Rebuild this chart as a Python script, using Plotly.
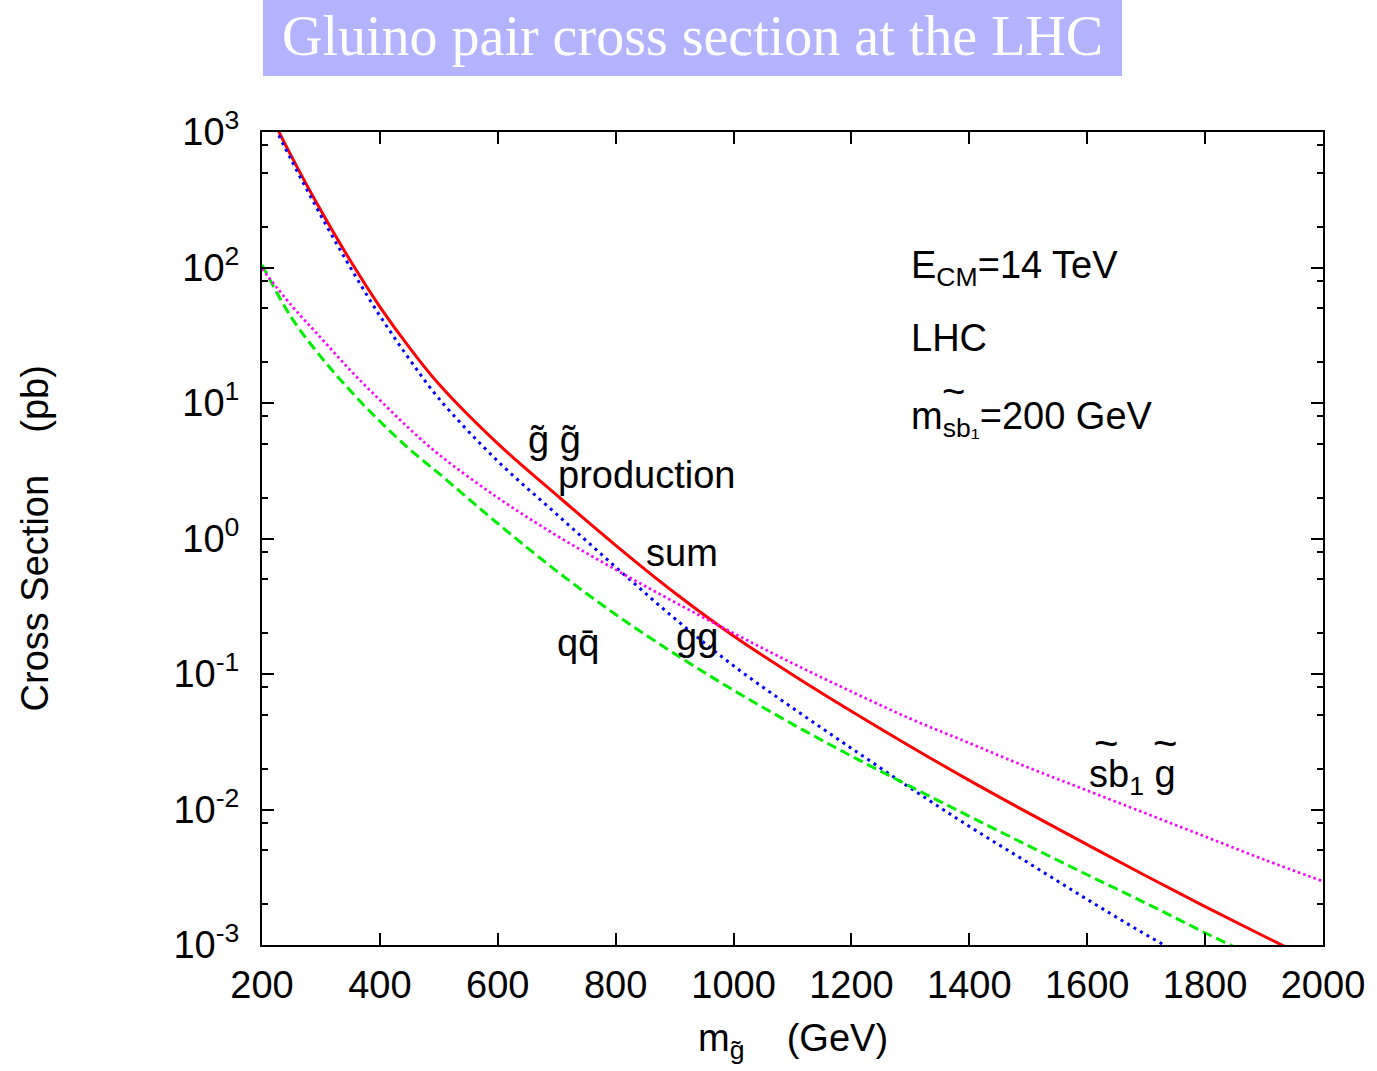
import plotly.graph_objects as go

# Gluino mass grid (GeV)
mass = [200, 250, 300, 350, 400, 450, 500, 600, 700, 800, 900, 1000, 1100,
        1200, 1300, 1400, 1500, 1600, 1700, 1800, 1900, 2000]

# Cross sections in pb
sigma_sum = [1780, 661, 263, 112, 51.3, 25.7, 13.8, 5.01, 2.09, 0.891, 0.398, 0.191, 0.0989,
             0.0531, 0.0292, 0.0164, 0.00944, 0.00550, 0.00323, 0.00192, 0.00116, 0.000708]
sigma_gg = [1670, 618, 241, 99.9, 44.0, 21.1, 10.8, 3.72, 1.51, 0.616, 0.257, 0.115, 0.0562,
            0.0283, 0.0144, 0.00750, 0.00404, 0.00217, 0.00119, 0.000680, 0.000398, 0.000240]
sigma_qq = [105, 42.7, 21.9, 12.3, 7.33, 4.57, 3.02, 1.29, 0.575, 0.275, 0.141, 0.0759, 0.0427,
            0.0248, 0.0148, 0.00891, 0.00541, 0.00330, 0.00203, 0.00123, 0.000762, 0.000474]
sigma_sbg = [97.7, 52.5, 30.2, 17.4, 10.5, 6.46, 4.17, 2.00, 1.05, 0.589, 0.339, 0.200, 0.120,
             0.0741, 0.0468, 0.0309, 0.0204, 0.0138, 0.00933, 0.00631, 0.00427, 0.00295]

x_ticks = [200, 400, 600, 800, 1000, 1200, 1400, 1600, 1800, 2000]
y_ticks = [1e-3, 1e-2, 1e-1, 1, 10, 100, 1000]
y_ticktext = ["10<sup>-3</sup>", "10<sup>-2</sup>", "10<sup>-1</sup>", "10<sup>0</sup>",
              "10<sup>1</sup>", "10<sup>2</sup>", "10<sup>3</sup>"]
y_minor = [m * 10.0 ** e for e in range(-3, 3) for m in (2, 5, 8)]

FONT = "Liberation Sans, Arial, Helvetica, sans-serif"
FS = 38

fig = go.Figure()
fig.add_trace(go.Scatter(x=mass, y=sigma_sum, mode="lines", line_shape="spline",
                         line=dict(color="#ff0000", width=3)))
fig.add_trace(go.Scatter(x=mass, y=sigma_gg, mode="lines", line_shape="spline",
                         line=dict(color="#0000ff", width=3, dash="3px,4.5px")))
fig.add_trace(go.Scatter(x=mass, y=sigma_qq, mode="lines", line_shape="spline",
                         line=dict(color="#00ee00", width=3, dash="10px,5px")))
fig.add_trace(go.Scatter(x=mass, y=sigma_sbg, mode="lines", line_shape="spline",
                         line=dict(color="#ff00ff", width=2.7, dash="2.5px,3px")))

axis_common = dict(showline=True, linecolor="black", linewidth=2, mirror="allticks",
                   ticks="inside", ticklen=12, tickwidth=1.6, tickcolor="black",
                   showgrid=False, zeroline=False,
                   tickfont=dict(family=FONT, size=FS, color="black"))

fig.update_xaxes(range=[200, 2000], tickvals=x_ticks, ticklabelstandoff=5, **axis_common)
fig.update_yaxes(type="log", range=[-3, 3], tickvals=y_ticks, ticktext=y_ticktext,
                 ticklabelstandoff=13,
                 minor=dict(tickvals=y_minor, ticks="inside", ticklen=6,
                            tickwidth=1.6, tickcolor="black", showgrid=False),
                 **axis_common)

annotations = []

def label(x, logy, text, size=FS, anchor="left"):
    annotations.append(dict(x=x, y=logy, xref="x", yref="y", text=text, showarrow=False,
                            xanchor=anchor, yanchor="middle",
                            font=dict(family=FONT, size=size, color="black")))

label(1298, 2.00, "E<sub>CM</sub>=14 TeV")
label(1298, 1.48, "LHC")
label(1298, 0.88, "m<sub>sb\u2081</sub>=200 GeV")
label(1373, 1.09, "~", size=40, anchor="center")
label(648, 0.73, "g\u0303 g\u0303")
label(698, 0.47, "production")
label(848, -0.11, "sum")
label(697, -0.77, "qq\u0304")
label(899, -0.73, "gg")
label(1599, -1.76, "sb<sub>1</sub> g")
label(1633, -1.51, "~", size=42, anchor="center")
label(1732, -1.51, "~", size=42, anchor="center")

# axis titles
annotations.append(dict(x=0.5, y=-0.118, xref="paper", yref="paper", showarrow=False,
                        text="m<sub>g\u0303</sub>    (GeV)", xanchor="center", yanchor="middle",
                        font=dict(family=FONT, size=FS, color="black")))
annotations.append(dict(x=-0.214, y=0.5, xref="paper", yref="paper", showarrow=False,
                        text="Cross Section    (pb)", textangle=-90,
                        xanchor="center", yanchor="middle",
                        font=dict(family=FONT, size=FS, color="black")))

# title banner
annotations.append(dict(x=0.4053, y=1.118, xref="paper", yref="paper", showarrow=False,
                        text="Gluino pair cross section at the LHC",
                        xanchor="center", yanchor="middle",
                        font=dict(family="Liberation Serif, DejaVu Serif, serif",
                                  size=56, color="white")))

fig.update_layout(
    width=1377, height=1071,
    margin=dict(l=262, r=54, t=132, b=126),
    paper_bgcolor="white", plot_bgcolor="white",
    showlegend=False,
    annotations=annotations,
    shapes=[dict(type="rect", xref="paper", yref="paper",
                 x0=0.0009, x1=0.8106, y0=1.0689, y1=1.1624,
                 fillcolor="#b3b3ff", line=dict(width=0), layer="below")],
)

fig.write_html("out.html")
